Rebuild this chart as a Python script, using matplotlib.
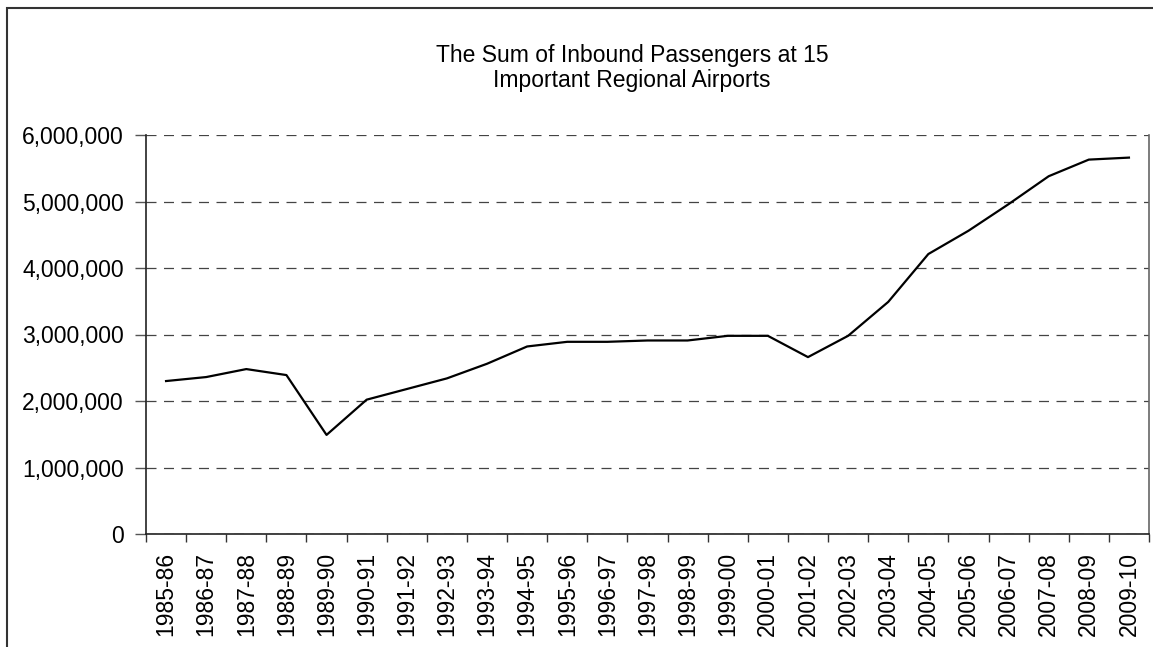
import matplotlib.pyplot as plt
from matplotlib.patches import Rectangle
from matplotlib.ticker import FuncFormatter, FixedLocator

plt.rcParams['font.family'] = ['Liberation Sans', 'DejaVu Sans']

# --------------------------------------------------
# Data
# --------------------------------------------------
years = ["1985-86", "1986-87", "1987-88", "1988-89", "1989-90", "1990-91",
         "1991-92", "1992-93", "1993-94", "1994-95", "1995-96", "1996-97",
         "1997-98", "1998-99", "1999-00", "2000-01", "2001-02", "2002-03",
         "2003-04", "2004-05", "2005-06", "2006-07", "2007-08", "2008-09",
         "2009-10"]
passengers = [2300000, 2360000, 2480000, 2390000, 1490000, 2020000,
              2180000, 2340000, 2560000, 2820000, 2890000, 2890000,
              2910000, 2910000, 2980000, 2980000, 2660000, 2980000,
              3490000, 4210000, 4560000, 4960000, 5380000, 5630000,
              5660000]
y_ticks = [0, 1000000, 2000000, 3000000, 4000000, 5000000, 6000000]
title = "The Sum of Inbound Passengers at 15\nImportant Regional Airports"


def main():
    fig = plt.figure(figsize=(11.53, 6.47), dpi=100)
    ax = fig.add_axes([146 / 1153, 1 - 534 / 647, (1149 - 146) / 1153, (534 - 135) / 647])

    x = list(range(len(years)))
    ax.plot(x, passengers, color="black", linewidth=1.6, zorder=3)

    # axes limits and ticks
    ax.set_xlim(-0.5, len(years) - 0.5)
    ax.set_ylim(0, 6000000)
    ax.set_xticks(x)
    ax.set_xticklabels(years, rotation=90, fontsize=16.5)
    ax.xaxis.set_minor_locator(FixedLocator([i - 0.5 for i in range(len(years) + 1)]))
    ax.tick_params(axis="x", which="major", length=0, pad=13)
    ax.tick_params(axis="x", which="minor", length=6, width=1, color="#333333")
    ax.set_yticks(y_ticks)
    ax.yaxis.set_major_formatter(FuncFormatter(lambda v, p: f"{int(v):,}"))
    ax.tick_params(axis="y", length=8, width=1, color="#555555", pad=8, labelsize=16.5)

    # grid
    ax.yaxis.grid(True, linestyle=(0, (8, 6)), color="#444444", linewidth=0.9)
    ax.set_axisbelow(True)

    for s in ["left", "bottom"]:
        ax.spines[s].set_color("#222222")
        ax.spines[s].set_linewidth(1.2)
    ax.spines["right"].set_color("#666666")
    ax.spines["right"].set_linewidth(1.2)
    ax.spines["top"].set_visible(False)

    fig.text(632 / 1153, 1 - 68 / 647, title, ha="center", va="center",
             fontsize=16.5, linespacing=1.15)

    # outer chart frame (only left and top edges visible in the picture)
    frame = Rectangle((7 / 1153, -0.2), 1.2, 1.2 - 8 / 647, transform=fig.transFigure,
                      fill=False, edgecolor="#333333", linewidth=1.5)
    fig.patches.append(frame)

    fig.savefig("out.png", dpi=100)


if __name__ == "__main__":
    main()
